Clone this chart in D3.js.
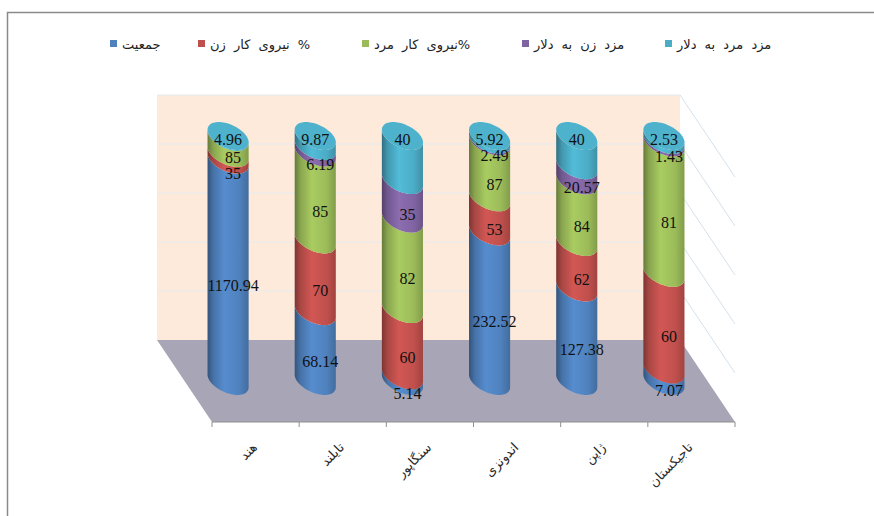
<!DOCTYPE html>
<html>
<head>
<meta charset="utf-8">
<script src="https://cdn.jsdelivr.net/npm/d3@7"></script>
<style>
  body { margin: 0; background: #fff; }
  svg { display: block; }
</style>
</head>
<body>
<svg id="chart" width="874" height="516"></svg>
<script>
// categorias y series
const categories = ["هند", "تایلند", "سنگاپور", "اندونزی", "ژاپن", "تاجیکستان"];
const seriesNames = ["جمعیت", "نیروی کار زن %", "نیروی کار مرد%", "مزد زن به دلار", "مزد مرد به دلار"];
const population = [1170.94, 68.14, 5.14, 232.52, 127.38, 7.07];
const femaleLabour = [35, 70, 60, 53, 62, 60];
const maleLabour = [85, 85, 82, 87, 84, 81];
const femaleWage = [null, 6.19, 35, 2.49, 20.57, 1.43];
const maleWage = [4.96, 9.87, 40, 5.92, 40, 2.53];
const gridTicks = [0.2, 0.4, 0.6, 0.8, 1.0];
const colors = ["#4F81BD", "#C0504D", "#9BBB59", "#8064A2", "#4BACC6"];

const allSeries = [population, femaleLabour, maleLabour, femaleWage, maleWage];

const svg = d3.select("#chart");

// marco exterior
svg.append("path")
  .attr("d", "M7.5,516 V12.5 H874")
  .attr("fill", "none")
  .attr("stroke", "#8a8a8a")
  .attr("stroke-width", 1.5);

// proyeccion oblicua: pared trasera + vector de profundidad
const back = { left: 157, right: 680, top: 95, bottom: 340 };
const depth = { dx: 55, dy: 82 };

const x = d3.scaleBand().domain(categories).range([back.left, back.right]);
const y = d3.scaleLinear().domain([0, 1]).range([back.bottom, back.top]);

// pared trasera
svg.append("rect")
  .attr("x", back.left).attr("y", back.top)
  .attr("width", back.right - back.left).attr("height", back.bottom - back.top)
  .attr("fill", "#FDEADB");

// piso
svg.append("path")
  .attr("d", `M${back.left},${back.bottom} H${back.right} l${depth.dx},${depth.dy} H${back.left + depth.dx} Z`)
  .attr("fill", "#A8A6B6");

// lineas de la cuadricula (pared trasera y lateral)
const grid = svg.append("g");
gridTicks.forEach(t => {
  grid.append("line")
    .attr("x1", back.left).attr("x2", back.right)
    .attr("y1", y(t)).attr("y2", y(t))
    .attr("stroke", "#E6EBF0").attr("stroke-width", 1);
  grid.append("line")
    .attr("x1", back.right).attr("y1", y(t))
    .attr("x2", back.right + depth.dx).attr("y2", y(t) + depth.dy)
    .attr("stroke", "#D5E1EC").attr("stroke-width", 1);
});

// eje de categorias (borde frontal del piso)
const axisY = back.bottom + depth.dy;
svg.append("line")
  .attr("x1", back.left + depth.dx).attr("x2", back.right + depth.dx)
  .attr("y1", axisY).attr("y2", axisY)
  .attr("stroke", "#8f8f8f").attr("stroke-width", 1.2);
d3.range(categories.length + 1).forEach(i => {
  const tx = back.left + depth.dx + i * x.step();
  svg.append("line")
    .attr("x1", tx).attr("x2", tx)
    .attr("y1", axisY).attr("y2", axisY + 5)
    .attr("stroke", "#8f8f8f");
});

svg.selectAll(".catLabel")
  .data(categories)
  .enter()
  .append("text")
  .attr("class", "catLabel")
  .attr("transform", d => `translate(${x(d) + x.bandwidth() / 2 + depth.dx - 1},${axisY + 23}) rotate(-45)`)
  .attr("text-anchor", "end")
  .attr("dy", "0.35em")
  .style("font-family", "DejaVu Sans, sans-serif")
  .style("font-size", "13px")
  .attr("fill", "#2a2a2a")
  .text(d => d);

// gradientes de los cilindros
const defs = svg.append("defs");
colors.forEach((c, i) => {
  const g = defs.append("linearGradient")
    .attr("id", "grad" + i)
    .attr("x1", "0%").attr("x2", "100%").attr("y1", "0%").attr("y2", "0%");
  const base = d3.color(c);
  g.append("stop").attr("offset", "0%").attr("stop-color", base.darker(1.2));
  g.append("stop").attr("offset", "14%").attr("stop-color", base.darker(0.35));
  g.append("stop").attr("offset", "42%").attr("stop-color", base.brighter(0.25));
  g.append("stop").attr("offset", "78%").attr("stop-color", base);
  g.append("stop").attr("offset", "100%").attr("stop-color", base.darker(0.5));
});

// geometria del cilindro
const r = x.bandwidth() * 0.21;        // radio horizontal
const rz = 0.17;                        // radio en profundidad (fraccion)
const a = rz * depth.dx, b = rz * depth.dy;
const thR = Math.atan2(a, r);
const pt = (cx, cy, th) => [cx + r * Math.cos(th) + a * Math.sin(th), cy + b * Math.sin(th)];
const N = 40;
const line = d3.line();

function sidePath(cx, cy0, cy1) {
  const pts = [];
  for (let k = 0; k <= N; k++) pts.push(pt(cx, cy0, thR + Math.PI * k / N));
  for (let k = N; k >= 0; k--) pts.push(pt(cx, cy1, thR + Math.PI * k / N));
  return line(pts) + "Z";
}
function capPath(cx, cy) {
  const pts = [];
  for (let k = 0; k < 2 * N; k++) pts.push(pt(cx, cy, Math.PI * k / N));
  return line(pts) + "Z";
}

const labels = [];
categories.forEach((cat, ci) => {
  const vals = allSeries.map(s => s[ci] || 0);
  const total = d3.sum(vals);
  const cx = x(cat) + x.bandwidth() / 2 + depth.dx / 2;
  const g = svg.append("g");
  let acc = 0;
  let topIdx = 0;
  vals.forEach((v, si) => { if (v > 0) topIdx = si; });
  const own = [];
  vals.forEach((v, si) => {
    if (v <= 0) return;
    const f0 = acc / total, f1 = (acc + v) / total;
    acc += v;
    const cy0 = y(f0) + depth.dy / 2, cy1 = y(f1) + depth.dy / 2;
    g.append("path")
      .attr("d", sidePath(cx, cy0, cy1))
      .attr("fill", `url(#grad${si})`);
    if (si === topIdx) {
      own.push({ x: cx, y: cy1 + 3, text: allSeries[si][ci], top: true });
    } else {
      own.push({ x: cx + 5, y: (cy0 + cy1) / 2 + b + 1, text: allSeries[si][ci] });
    }
  });
  // separar etiquetas que se pisan (de abajo hacia arriba)
  for (let k = 1; k < own.length; k++) {
    const lo = own[k - 1], hi = own[k];
    if (!hi.top && lo.y - hi.y < 16) {
      const m = (lo.y + hi.y) / 2;
      lo.y = m + 8; hi.y = m - 8;
    }
  }
  labels.push(...own);
  // tapa superior
  const topColor = d3.color(colors[topIdx]);
  g.append("path")
    .attr("d", capPath(cx, y(1) + depth.dy / 2))
    .attr("fill", topColor.brighter(0.1));
});

// etiquetas de datos
svg.append("g")
  .selectAll("text")
  .data(labels)
  .enter()
  .append("text")
  .attr("x", d => d.x)
  .attr("y", d => d.y)
  .attr("dy", "0.35em")
  .attr("text-anchor", "middle")
  .style("font-family", "Liberation Serif, serif")
  .style("font-size", "16px")
  .attr("fill", "#111")
  .text(d => d.text);

// leyenda
const legendX = [110, 198, 362, 522, 665];
const legend = svg.append("g");
seriesNames.forEach((name, i) => {
  legend.append("rect")
    .attr("x", legendX[i]).attr("y", 40)
    .attr("width", 7).attr("height", 7)
    .attr("fill", colors[i]);
  legend.append("text")
    .attr("x", legendX[i] + 12).attr("y", 44)
    .attr("dy", "0.35em")
    .style("font-family", "DejaVu Sans, sans-serif")
    .style("font-size", "13px")
    .style("word-spacing", "4px")
    .attr("fill", "#222")
    .text(name);
});
</script>
</body>
</html>
